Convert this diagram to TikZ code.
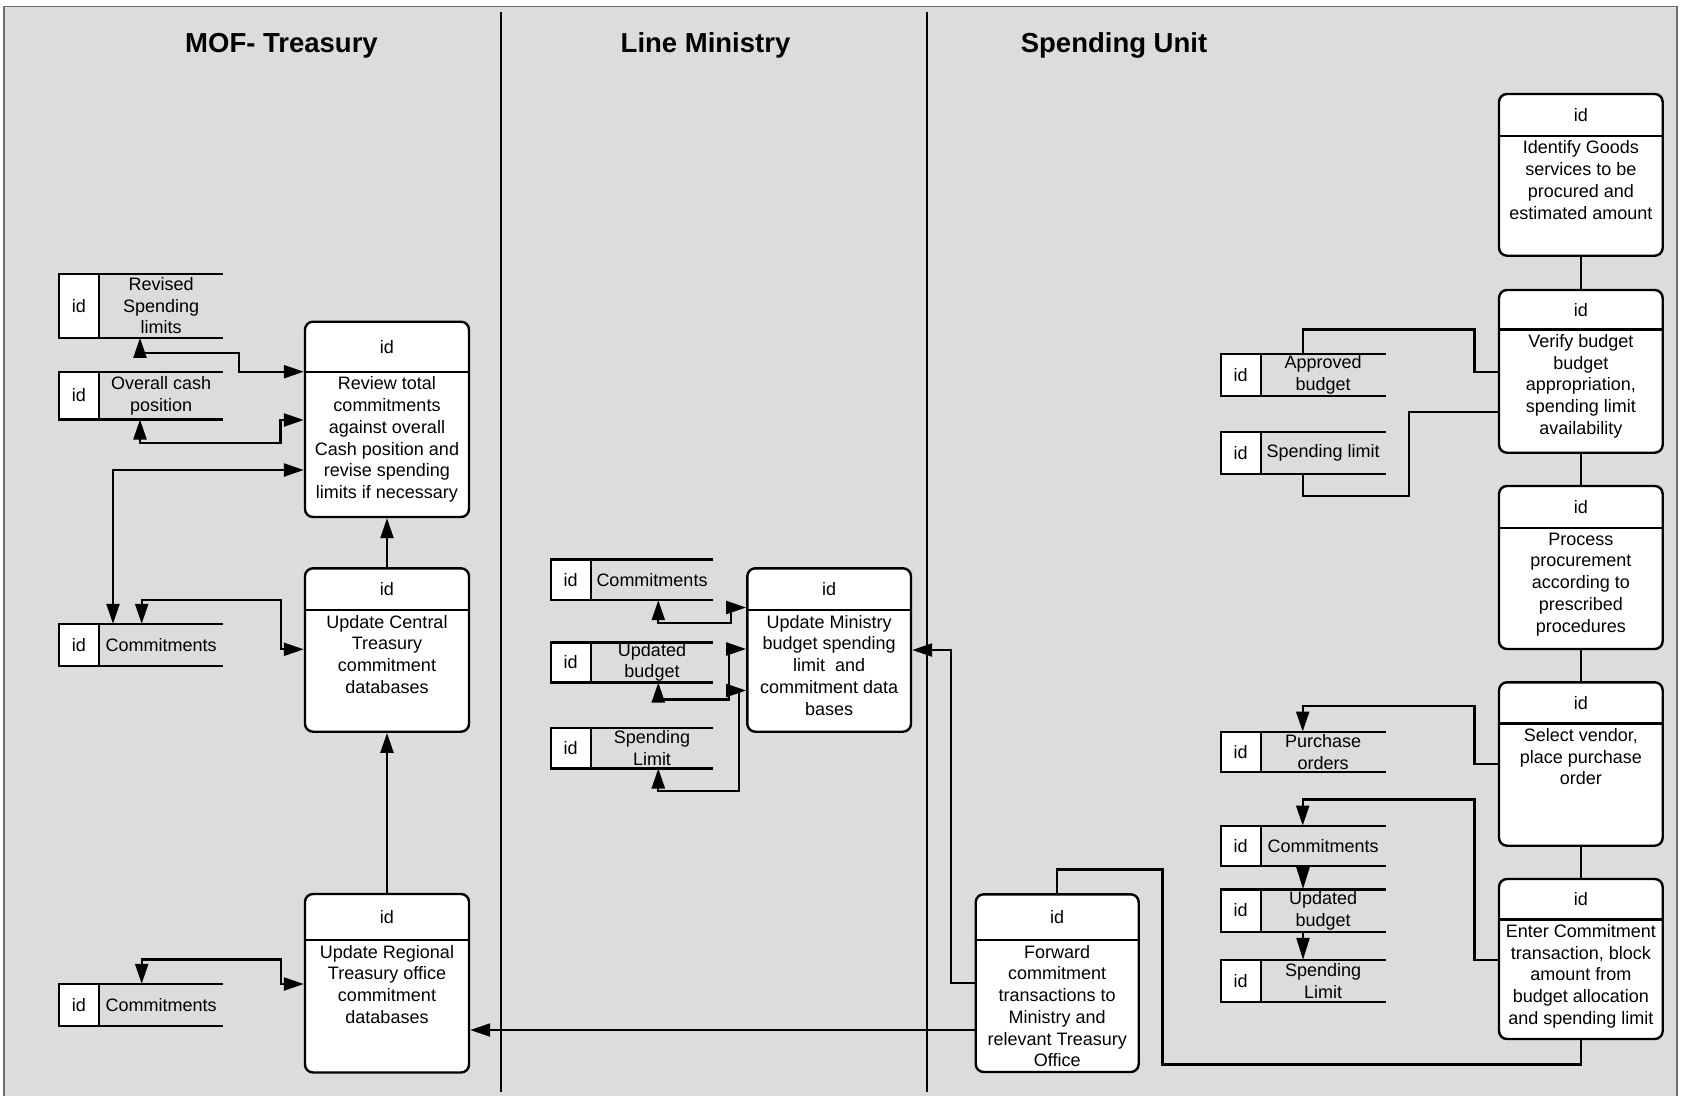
\documentclass[tikz,border=0pt]{standalone}
\usepackage{fontspec}
\setmainfont{Liberation Sans}
\usetikzlibrary{arrows.meta,fit}

\definecolor{lanebg}{RGB}{220,220,220}
\definecolor{framegray}{RGB}{110,110,110}

\tikzset{
  procbox/.style={draw, line width=2.4pt, fill=white, rounded corners=8pt, inner sep=0pt},
  storeline/.style={line width=2.4pt},
  flow/.style={line width=2.3pt},
  arrowend/.style={flow, -{Triangle[length=20pt,width=13pt]}},
  bothends/.style={flow, {Triangle[length=20pt,width=13pt]}-{Triangle[length=20pt,width=13pt]}},
  txt/.style={font=\fontsize{18}{21.7}\selectfont, align=center, inner sep=0pt},
  lanetitle/.style={font=\fontsize{27.5}{33}\selectfont\bfseries, inner sep=0pt},
  lanerule/.style={line width=2.3pt},
}

% process box: name, left, top, right, bottom, divider y, text
\newcommand\procnode[7]{%
  \node[procbox, fit={(#2,#3) (#4,#5)}] (#1) {};
  \draw[line width=2.4pt] (#1.west |- 0,#6) -- (#1.east |- 0,#6);
  \node[txt] (#1id) at ({(#2+#4)/2},{(#3+#6)/2}) {id};
  \node[txt, anchor=north] (#1txt) at ({(#2+#4)/2},{#6+5}) {#7};
}

% data store: name, left, top, right, bottom, text
\newcommand\storenode[6]{%
  \node[inner sep=0pt, fit={(#2,#3) (#4,#5)}] (#1) {};
  \draw[storeline, fill=white] (#2,#3) rectangle ({#2+40},#5);
  \draw[storeline] (#2,#3) -- (#4,#3) (#2,#5) -- (#4,#5);
  \node[txt] (#1id) at ({#2+20},{(#3+#5)/2}) {id};
  \node[txt] (#1txt) at ({(#2+40+#4)/2},{(#3+#5)/2}) {#6};
}

\begin{document}
\begin{tikzpicture}[x=1pt,y=-1pt]
\useasboundingbox (0,0) rectangle (1681,1095);
\clip (0,0) rectangle (1681,1095);

% swimlane frame
\fill[lanebg] (4,6.5) rectangle (1677,1100);
\draw[framegray, line width=1.8pt] (4,1100) -- (4,6.5) -- (1677,6.5) -- (1677,1100);
\draw[lanerule] (500.7,12) -- (500.7,1092);
\draw[lanerule] (927,12) -- (927,1092);

\node[lanetitle, anchor=base] (lane1) at (281.5,52.5) {MOF- Treasury};
\node[lanetitle, anchor=base] (lane2) at (705.5,52.5) {Line Ministry};
\node[lanetitle, anchor=base] (lane3) at (1114,52.5) {Spending Unit};

% ---- MOF - Treasury ----
\procnode{A}{305}{321.7}{469}{517}{371.7}{Review total\\commitments\\against overall\\Cash position and\\revise spending\\limits if necessary}
\procnode{B}{305}{568.3}{469}{731.7}{610}{Update Central\\Treasury\\commitment\\databases}
\procnode{C}{305}{894}{469}{1072.5}{940}{Update Regional\\Treasury office\\commitment\\databases}

\storenode{rsl}{59}{274}{223.3}{337.7}{Revised\\Spending\\limits}
\storenode{ocp}{59}{371.7}{223.3}{419.3}{Overall cash\\position}
\storenode{cma}{59}{624}{223.3}{665.7}{Commitments}
\storenode{cmb}{59}{984}{223.3}{1025.7}{Commitments}

% ---- Line Ministry ----
\procnode{D}{747.3}{568.3}{911}{731.7}{610}{Update Ministry\\budget spending\\limit~ and\\commitment data\\bases}
\storenode{lcm}{550.7}{559.3}{713.3}{600}{Commitments}
\storenode{lub}{550.7}{642.3}{713.3}{682.3}{Updated\\budget}
\storenode{lsl}{550.7}{727.7}{713.3}{768.3}{Spending\\Limit}

% ---- Spending Unit ----
\procnode{E}{975.7}{894.3}{1138.7}{1072}{940}{Forward\\commitment\\transactions to\\Ministry and\\relevant Treasury\\Office}
\procnode{F}{1499}{94}{1662.7}{255.7}{135.7}{Identify Goods\\services to be\\procured and\\estimated amount}
\procnode{G}{1499}{290}{1662.7}{452.7}{329.3}{Verify budget\\budget\\appropriation,\\spending limit\\availability}
\procnode{H}{1499}{486}{1662.7}{649}{527.7}{Process\\procurement\\according to\\prescribed\\procedures}
\procnode{I}{1499}{682.3}{1662.7}{845.7}{723.3}{Select vendor,\\place purchase\\order}
\procnode{J}{1499}{879}{1662.7}{1039}{919.3}{Enter Commitment\\transaction, block\\amount from\\budget allocation\\and spending limit}

\storenode{sab}{1220.7}{354}{1385.7}{395.7}{Approved\\budget}
\storenode{ssl}{1220.7}{431.7}{1385.7}{474}{Spending limit}
\storenode{spo}{1220.7}{731.7}{1385.7}{772}{Purchase\\orders}
\storenode{scm}{1220.7}{825.7}{1385.7}{866}{Commitments}
\storenode{sub}{1220.7}{889.3}{1385.7}{931.7}{Updated\\budget}
\storenode{ssm}{1220.7}{960}{1385.7}{1001.7}{Spending\\Limit}

% ---- connectors: MOF - Treasury ----
\draw[bothends] (rsl.south -| 140,0) -- (140,353.3) -- (239,353.3) -- (239,371.7) -- (A.west |- 0,371.7);
\draw[bothends] (ocp.south -| 140,0) -- (140,443) -- (280.5,443) -- (280.5,420) -- (A.west |- 0,420);
\draw[bothends] (cma.north -| 113,0) -- (113,470) -- (A.west |- 0,470);
\draw[bothends] (cma.north -| 141.7,0) -- (141.7,600) -- (280.7,600) -- (280.7,649.3) -- (B.west |- 0,649.3);
\draw[arrowend] (B.north) -- (A.south);
\draw[arrowend] (C.north) -- (B.south);
\draw[bothends] (cmb.north -| 141.7,0) -- (141.7,959.5) -- (280.7,959.5) -- (280.7,984) -- (C.west |- 0,984);
\draw[arrowend] (E.west |- 0,1030) -- (C.east |- 0,1030);

% ---- connectors: Line Ministry ----
\draw[bothends] (lcm.south -| 658.3,0) -- (658.3,623.3) -- (731,623.3) -- (731,607.5) -- (D.west |- 0,607.5);
\draw[bothends] (lub.south -| 658.3,0) -- (658.3,699.5) -- (729,699.5) -- (729,649) -- (D.west |- 0,649);
\draw[bothends] (lsl.south -| 658.3,0) -- (658.3,791) -- (739,791) -- (739,690.5) -- (D.west |- 0,690.5);
\draw[arrowend] (E.west |- 0,983.3) -- (950.7,983.3) -- (950.7,650) -- (D.east |- 0,650);

% ---- connectors: Spending Unit ----
\draw[flow] (F.south) -- (G.north);
\draw[flow] (G.south) -- (H.north);
\draw[flow] (H.south) -- (I.north);
\draw[flow] (I.south) -- (J.north);
\draw[flow] (G.west |- 0,371.7) -- (1474.5,371.7) -- (1474.5,329.5) -- (1302.7,329.5) -- (sab.north -| 1302.7,0);
\draw[flow] (G.west |- 0,411.7) -- (1409,411.7) -- (1409,496) -- (1302.7,496) -- (ssl.south -| 1302.7,0);
\draw[arrowend] (I.west |- 0,764) -- (1474.5,764) -- (1474.5,706) -- (1302.7,706) -- (spo.north -| 1302.7,0);
\draw[arrowend] (J.west |- 0,960) -- (1474.5,960) -- (1474.5,799.5) -- (1302.7,799.5) -- (scm.north -| 1302.7,0);
\draw[flow, -{Triangle[length=22pt,width=13pt]}] (scm.south -| 1303,0) -- (sub.north -| 1303,0);
\draw[flow, -{Triangle[length=22pt,width=13pt]}] (sub.south -| 1303,0) -- (ssm.north -| 1303,0);
\draw[flow] (J.south) -- (J.south |- 0,1064.6) -- (1162.5,1064.6) -- (1162.5,869.5) -- (E.north |- 0,869.5) -- (E.north);

\end{tikzpicture}
\end{document}
